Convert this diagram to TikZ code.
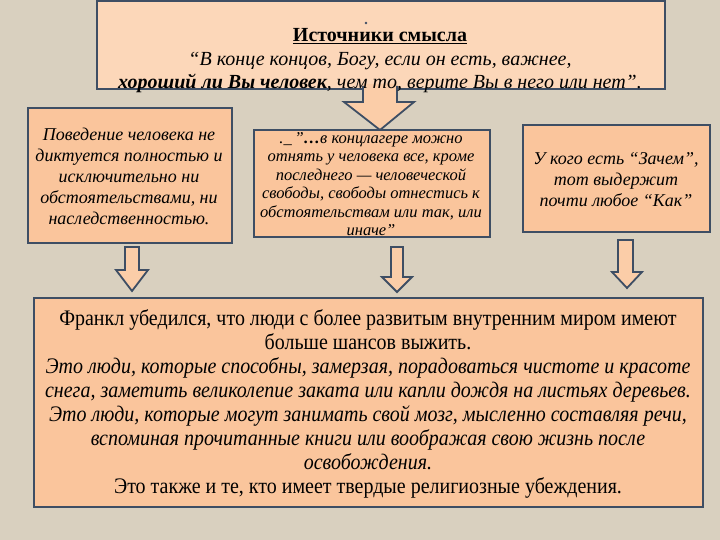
\documentclass[tikz,border=0pt]{standalone}
\usepackage{fontspec}
\setmainfont{Liberation Serif}
\newfontfamily\condserif[FakeStretch=0.9]{Liberation Serif}
\definecolor{bgc}{RGB}{217,208,191}
\definecolor{boxc}{RGB}{250,197,156}
\definecolor{topc}{RGB}{252,215,185}
\definecolor{bordc}{RGB}{62,78,100}
\definecolor{stemc}{RGB}{251,205,168}
\tikzset{
  panel/.style={draw=bordc, line width=1.8pt, fill=boxc, anchor=north west, inner sep=0pt},
  txt/.style={align=center, inner sep=0pt, text=black},
  blockarrow/.style={draw=bordc, line width=1.8pt, fill=stemc, line join=miter},
}
\begin{document}
\begin{tikzpicture}[x=1pt,y=-1pt]
\fill[bgc] (0,0) rectangle (720,540);
\useasboundingbox (0,0) rectangle (720,540);
% top box
\node[panel, fill=topc, minimum width=568pt, minimum height=88pt] (top) at (96,0) {};
\fill[stemc] (363,84) -- (363,102) -- (344,102) -- (380,130) -- (414,102) -- (397,102) -- (397,84) -- cycle;
\draw[bordc, line width=1.8pt, line join=miter] (363,86) -- (363,102) -- (344,102) -- (380,130) -- (414,102) -- (397,102) -- (397,86);
\node[txt, font=\fontsize{20}{23.5}\selectfont] (toptext) at (380,61)
  {\textbf{\underline{Источники смысла}}\\
   \itshape “В конце концов, Богу, если он есть, важнее,\\
   \itshape\textbf{хороший ли Вы человек}, чем то, верите Вы в него или нет”.};
\fill[bordc] (366,23) circle (1.3pt);
% left box
\node[panel, minimum width=204pt, minimum height=135pt] (left) at (27,107) {};
\node[txt, font=\fontsize{18}{21}\selectfont\itshape] (lefttext) at (129,176)
  {Поведение человека не\\ диктуется полностью и\\ исключительно ни\\ обстоятельствами, ни\\ наследственностью.};
% middle box
\node[panel, minimum width=236pt, minimum height=107pt] (mid) at (253,129) {};
\node[txt, font=\fontsize{16.5}{18.5}\selectfont\itshape] (midtext) at (371,184)
  {.\_\,”\textbf{…}в концлагере можно\\ отнять у человека все, кроме\\ последнего — человеческой\\ свободы, свободы отнестись к\\ обстоятельствам или так, или\\ иначе”};
% right box
\node[panel, minimum width=187pt, minimum height=107pt] (right) at (522,124) {};
\node[txt, font=\fontsize{18}{21}\selectfont\itshape] (righttext) at (616,180)
  {У кого есть “Зачем”,\\ тот выдержит\\ почти любое “Как”};
% small arrows
\draw[blockarrow] (125,247) -- (139,247) -- (139,270) -- (148,270) -- (132,291) -- (116,270) -- (125,270) -- cycle;
\draw[blockarrow] (391,247) -- (403,247) -- (403,277) -- (412,277) -- (397,292) -- (382,277) -- (391,277) -- cycle;
\draw[blockarrow] (618,240) -- (633,240) -- (633,272) -- (642,272) -- (627,288) -- (612,272) -- (618,272) -- cycle;
% bottom box
\node[panel, minimum width=669pt, minimum height=209pt] (bottom) at (33,297) {};
\node[txt, font=\condserif\fontsize{22.2}{24}\selectfont] (bottomtext) at (368,404)
  {Франкл убедился, что люди с более развитым внутренним миром имеют\\
   больше шансов выжить.\\
   \itshape Это люди, которые способны, замерзая, порадоваться чистоте и красоте\\
   \itshape снега, заметить великолепие заката или капли дождя на листьях деревьев.\\
   \itshape Это люди, которые могут занимать свой мозг, мысленно составляя речи,\\
   \itshape вспоминая прочитанные книги или воображая свою жизнь после\\
   \itshape освобождения.\\
   \upshape Это также и те, кто имеет твердые религиозные убеждения.};
\end{tikzpicture}
\end{document}
